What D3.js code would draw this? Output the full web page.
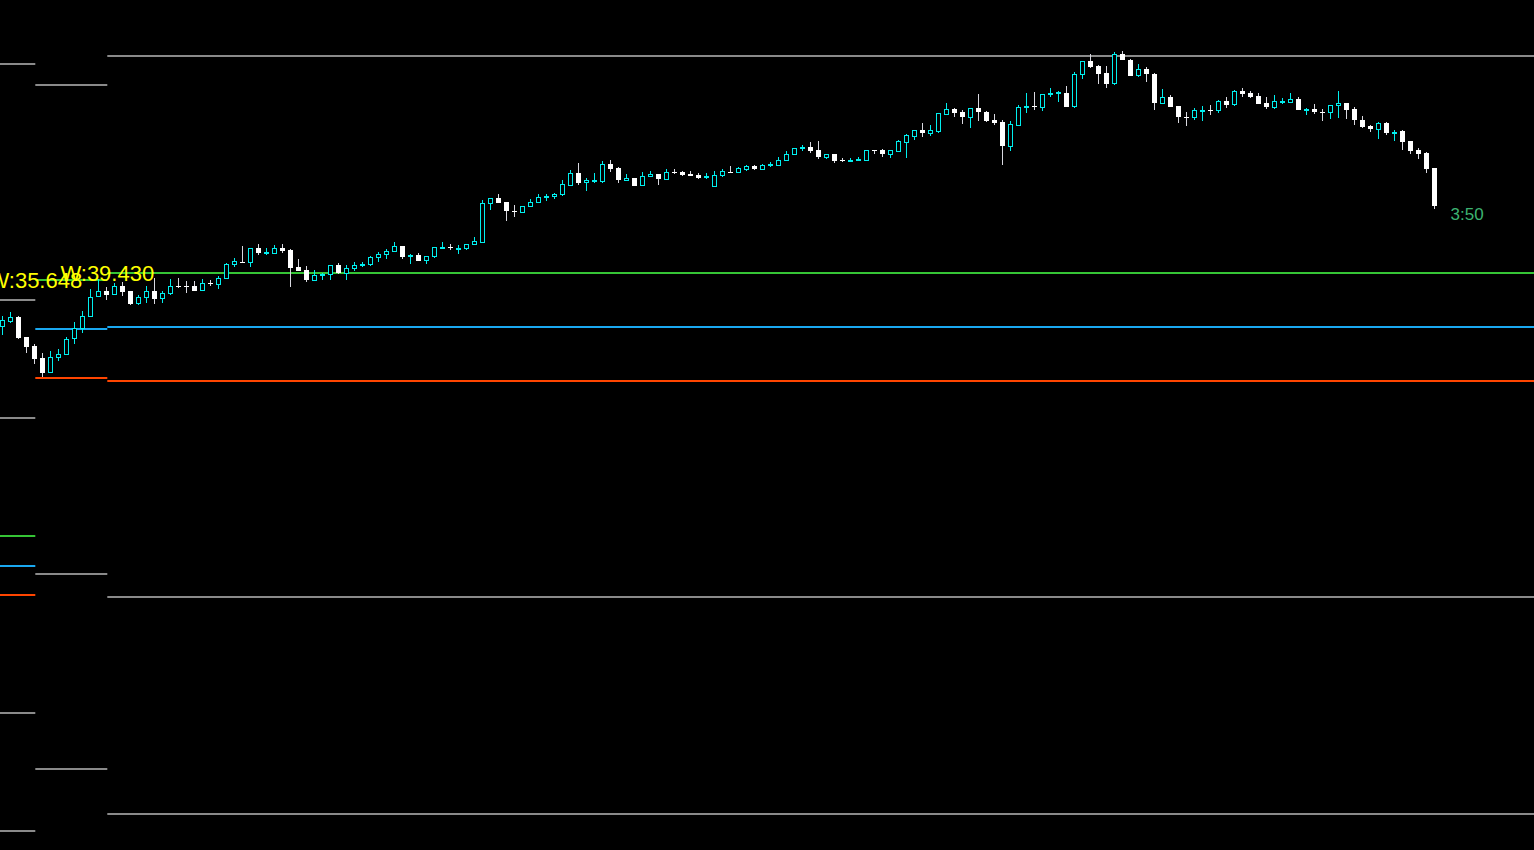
<!DOCTYPE html>
<html>
<head>
<meta charset="utf-8">
<script src="https://cdn.jsdelivr.net/npm/d3@7"></script>
<style>
  html, body { margin: 0; padding: 0; background: #000; overflow: hidden; }
</style>
</head>
<body>
<div id="chart"></div>
<script>
// OHLC of each bar, oldest first
const opens = [
  38.74, 38.79, 38.83, 38.63, 38.54, 38.42, 38.277, 38.427, 38.457, 38.613,
  38.713, 38.837, 39.033, 39.09, 39.057, 39.137, 39.09, 38.967, 39.027, 39.087,
  39.013, 39.063, 39.14, 39.137, 39.137, 39.093, 39.173, 39.153, 39.213, 39.353,
  39.383, 39.377, 39.517, 39.467, 39.467, 39.52, 39.50, 39.327, 39.30, 39.193,
  39.25, 39.257, 39.347, 39.27, 39.313, 39.353, 39.353, 39.423, 39.453, 39.483,
  39.54, 39.44, 39.447, 39.393, 39.433, 39.52, 39.527, 39.513, 39.513, 39.553,
  39.58, 39.963, 40.017, 39.98, 39.893, 39.88, 39.933, 39.977, 40.033, 40.033,
  40.053, 40.15, 40.27, 40.173, 40.193, 40.19, 40.36, 40.32, 40.20, 40.217,
  40.143, 40.233, 40.26, 40.21, 40.277, 40.28, 40.257, 40.25, 40.23, 40.133,
  40.243, 40.28, 40.28, 40.31, 40.34, 40.31, 40.357, 40.35, 40.393, 40.453,
  40.523, 40.53, 40.50, 40.43, 40.46, 40.397, 40.393, 40.40, 40.40, 40.50,
  40.50, 40.46, 40.49, 40.58, 40.64, 40.70, 40.67, 40.69, 40.86, 40.91,
  40.88, 40.83, 40.92, 40.88, 40.80, 40.78, 40.54, 40.75, 40.933, 40.937,
  40.927, 41.06, 41.07, 41.067, 40.933, 41.257, 41.387, 41.337, 41.267, 41.163,
  41.457, 41.397, 41.243, 41.307, 41.257, 40.967, 41.027, 40.937, 40.835, 40.823,
  40.897, 40.897, 40.893, 40.987, 40.953, 41.09, 41.07, 41.037, 40.967, 40.927,
  40.983, 40.98, 41.007, 40.907, 40.91, 40.883, 40.873, 40.943, 40.97, 40.91,
  40.80, 40.74, 40.71, 40.77, 40.677, 40.69, 40.59, 40.50, 40.47, 40.32
]
const highs = [
  38.84, 38.88, 38.84, 38.63, 38.56, 38.47, 38.487, 38.507, 38.633, 38.777,
  38.89, 39.107, 39.207, 39.133, 39.167, 39.177, 39.09, 39.047, 39.14, 39.217,
  39.093, 39.207, 39.22, 39.19, 39.193, 39.207, 39.20, 39.24, 39.367, 39.417,
  39.54, 39.52, 39.56, 39.517, 39.547, 39.56, 39.507, 39.41, 39.34, 39.30,
  39.267, 39.35, 39.37, 39.347, 39.38, 39.38, 39.44, 39.48, 39.51, 39.58,
  39.54, 39.46, 39.47, 39.433, 39.53, 39.58, 39.56, 39.55, 39.557, 39.63,
  40.00, 40.017, 40.06, 39.98, 39.95, 39.94, 40.01, 40.06, 40.06, 40.073,
  40.20, 40.30, 40.37, 40.22, 40.27, 40.39, 40.40, 40.33, 40.26, 40.217,
  40.28, 40.29, 40.26, 40.31, 40.31, 40.29, 40.29, 40.27, 40.27, 40.29,
  40.31, 40.34, 40.33, 40.35, 40.35, 40.36, 40.38, 40.43, 40.49, 40.52,
  40.55, 40.58, 40.59, 40.46, 40.46, 40.42, 40.42, 40.43, 40.497, 40.50,
  40.51, 40.50, 40.60, 40.66, 40.70, 40.77, 40.75, 40.87, 40.97, 40.92,
  40.90, 40.92, 41.06, 40.89, 40.86, 40.80, 40.79, 40.95, 41.07, 41.08,
  41.06, 41.117, 41.09, 41.14, 41.277, 41.387, 41.46, 41.347, 41.337, 41.477,
  41.487, 41.407, 41.357, 41.327, 41.267, 41.107, 41.047, 40.937, 40.877, 40.917,
  40.937, 40.947, 40.997, 41.027, 41.097, 41.123, 41.09, 41.07, 41.03, 41.047,
  41.017, 41.067, 41.027, 40.92, 40.96, 40.91, 40.947, 41.087, 40.97, 40.927,
  40.84, 40.75, 40.78, 40.78, 40.70, 40.70, 40.59, 40.52, 40.48, 40.32
]
const lows = [
  38.65, 38.77, 38.61, 38.47, 38.36, 38.233, 38.277, 38.387, 38.457, 38.563,
  38.673, 38.83, 39.027, 39.00, 39.047, 39.04, 38.953, 38.953, 38.973, 38.963,
  38.973, 39.047, 39.12, 39.073, 39.093, 39.093, 39.143, 39.113, 39.207, 39.327,
  39.377, 39.333, 39.453, 39.453, 39.467, 39.473, 39.133, 39.293, 39.183, 39.193,
  39.20, 39.20, 39.263, 39.20, 39.29, 39.327, 39.343, 39.38, 39.413, 39.483,
  39.413, 39.363, 39.393, 39.363, 39.423, 39.513, 39.503, 39.463, 39.503, 39.553,
  39.58, 39.90, 39.973, 39.79, 39.83, 39.867, 39.933, 39.967, 39.993, 40.013,
  40.04, 40.14, 40.15, 40.093, 40.173, 40.173, 40.28, 40.17, 40.19, 40.143,
  40.143, 40.233, 40.15, 40.20, 40.26, 40.24, 40.24, 40.21, 40.21, 40.133,
  40.23, 40.27, 40.27, 40.29, 40.30, 40.31, 40.33, 40.35, 40.393, 40.453,
  40.49, 40.47, 40.41, 40.41, 40.37, 40.38, 40.38, 40.39, 40.39, 40.46,
  40.43, 40.42, 40.48, 40.42, 40.60, 40.63, 40.64, 40.67, 40.85, 40.83,
  40.76, 40.72, 40.79, 40.78, 40.75, 40.35, 40.49, 40.75, 40.87, 40.90,
  40.893, 41.027, 40.977, 40.933, 40.923, 41.213, 41.323, 41.163, 41.123, 41.153,
  41.397, 41.243, 41.233, 41.183, 40.903, 40.967, 40.933, 40.773, 40.743, 40.803,
  40.793, 40.853, 40.873, 40.917, 40.943, 41.03, 41.02, 40.96, 40.91, 40.907,
  40.957, 40.977, 40.90, 40.853, 40.863, 40.793, 40.813, 40.823, 40.81, 40.753,
  40.723, 40.68, 40.61, 40.65, 40.59, 40.50, 40.46, 40.41, 40.27, 39.91
]
const closes = [
  38.80, 38.827, 38.623, 38.533, 38.413, 38.273, 38.427, 38.457, 38.61, 38.717,
  38.837, 39.027, 39.087, 39.053, 39.137, 39.083, 38.963, 39.027, 39.087, 39.013,
  39.067, 39.133, 39.13, 39.133, 39.093, 39.167, 39.17, 39.217, 39.357, 39.387,
  39.377, 39.513, 39.467, 39.477, 39.517, 39.493, 39.323, 39.293, 39.197, 39.247,
  39.257, 39.35, 39.273, 39.32, 39.35, 39.36, 39.43, 39.46, 39.49, 39.54,
  39.433, 39.447, 39.393, 39.433, 39.53, 39.523, 39.52, 39.517, 39.557, 39.59,
  39.967, 40.017, 39.973, 39.89, 39.89, 39.94, 39.98, 40.03, 40.037, 40.06,
  40.16, 40.27, 40.173, 40.20, 40.197, 40.36, 40.31, 40.20, 40.22, 40.143,
  40.24, 40.26, 40.21, 40.28, 40.273, 40.25, 40.243, 40.22, 40.233, 40.25,
  40.29, 40.277, 40.32, 40.34, 40.31, 40.35, 40.36, 40.40, 40.46, 40.52,
  40.527, 40.49, 40.43, 40.46, 40.39, 40.393, 40.397, 40.403, 40.497, 40.497,
  40.46, 40.50, 40.59, 40.65, 40.70, 40.67, 40.70, 40.87, 40.91, 40.87,
  40.83, 40.92, 40.88, 40.79, 40.77, 40.54, 40.76, 40.93, 40.937, 40.93,
  41.06, 41.067, 41.077, 40.933, 41.257, 41.387, 41.333, 41.263, 41.163, 41.457,
  41.397, 41.243, 41.307, 41.257, 40.967, 41.027, 40.933, 40.833, 40.83, 40.897,
  40.90, 40.893, 40.987, 40.953, 41.087, 41.06, 41.03, 40.96, 40.927, 40.987,
  40.987, 41.007, 40.90, 40.91, 40.877, 40.88, 40.947, 40.97, 40.90, 40.80,
  40.733, 40.71, 40.77, 40.67, 40.68, 40.58, 40.49, 40.46, 40.31, 39.94
]

// weekly levels, one entry per week (week starts given as bar index)
const weekStarts = [-1, 4.1, 13.1]
const grayLevels = [
  [41.36, 39.00, 37.82, 34.873, 33.693],
  [41.153, 36.263, 34.31],
  [41.443, 36.033, 33.86]
]
const greenLevels = [36.643, 39.203, 39.273]
const blueLevels = [36.343, 38.71, 38.733]
const redLevels = [36.053, 38.223, 38.193]
const weekLabels = [null, 'W:35.648', 'W:39.430']
const timerLabel = '3:50'

class CandleChart {
    constructor(_config) {
        this.config = {
            parentElement: _config.parentElement,
            width: 1534,
            height: 850,
            priceMin: 33.5,
            priceMax: 42.0,
            upColor: '#00eeee',
            downColor: '#ffffff',
            downWick: '#d8d8e0'
        }
        this.data = opens.map((o, i) => ({
            i: i, open: o, high: highs[i], low: lows[i], close: closes[i]
        }))
        this.initVis()
    }

    initVis() {
        let vis = this

        vis.svg = d3.select(vis.config.parentElement)
            .append('svg')
                .attr('width', vis.config.width)
                .attr('height', vis.config.height)
                .style('display', 'block')
                .style('background', '#000')

        vis.x = d3.scaleLinear()
            .domain([0, vis.data.length - 1])
            .range([2.5, 2.5 + 8 * (vis.data.length - 1)])

        vis.y = d3.scaleLinear()
            .domain([vis.config.priceMin, vis.config.priceMax])
            .range([vis.config.height, 0])

        // level segments per week
        let segs = []
        weekStarts.forEach((s, w) => {
            let x0 = vis.x(s)
            let x1 = w < weekStarts.length - 1 ? vis.x(weekStarts[w + 1]) : vis.config.width
            grayLevels[w].forEach(p => segs.push({x0, x1, p, color: '#8a8a8a'}))
            segs.push({x0, x1, p: greenLevels[w], color: '#35c435'})
            segs.push({x0, x1, p: blueLevels[w], color: '#1aa8f0'})
            segs.push({x0, x1, p: redLevels[w], color: '#ff4500'})
        })

        vis.svg.append('g')
            .selectAll('line')
            .data(segs)
            .join('line')
                .attr('x1', d => d.x0)
                .attr('x2', d => d.x1)
                .attr('y1', d => Math.round(vis.y(d.p)))
                .attr('y2', d => Math.round(vis.y(d.p)))
                .attr('stroke', d => d.color)
                .attr('stroke-width', 2)

        let isUp = d => d.close > d.open
        let candles = vis.svg.append('g')
            .attr('shape-rendering', 'crispEdges')
            .selectAll('g')
            .data(vis.data)
            .join('g')

        // wicks
        candles.append('line')
            .attr('x1', d => vis.x(d.i))
            .attr('x2', d => vis.x(d.i))
            .attr('y1', d => vis.y(d.high))
            .attr('y2', d => vis.y(d.low))
            .attr('stroke', d => isUp(d) ? vis.config.upColor : vis.config.downWick)
            .attr('stroke-width', 1)

        // bodies: hollow cyan when up, solid white when down
        candles.append('rect')
            .attr('x', d => isUp(d) ? vis.x(d.i) - 2 : vis.x(d.i) - 2.5)
            .attr('width', d => isUp(d) ? 4 : 5)
            .attr('y', d => vis.y(Math.max(d.open, d.close)))
            .attr('height', d => Math.max(1, vis.y(Math.min(d.open, d.close)) - vis.y(Math.max(d.open, d.close))))
            .attr('fill', d => isUp(d) ? '#000' : vis.config.downColor)
            .attr('stroke', d => isUp(d) ? vis.config.upColor : 'none')
            .attr('stroke-width', 1)

        // week labels at the green level, centred on the week start
        vis.svg.append('g')
            .selectAll('text')
            .data(weekLabels.map((t, w) => ({t, w})).filter(d => d.t))
            .join('text')
                .attr('x', d => vis.x(weekStarts[d.w]))
                .attr('y', d => vis.y(greenLevels[d.w]) + 8)
                .attr('text-anchor', 'middle')
                .attr('font-family', 'Liberation Sans, Arial, sans-serif')
                .attr('font-size', 22)
                .attr('fill', '#ffff00')
                .text(d => d.t)

        // bar timer next to the last bar
        let last = vis.data[vis.data.length - 1]
        vis.svg.append('text')
            .attr('x', vis.x(last.i) + 16)
            .attr('y', vis.y(last.close) + 14)
            .attr('font-family', 'Liberation Sans, Arial, sans-serif')
            .attr('font-size', 17)
            .attr('fill', '#3cb371')
            .text(timerLabel)
    }
}

new CandleChart({parentElement: '#chart'})
</script>
</body>
</html>
